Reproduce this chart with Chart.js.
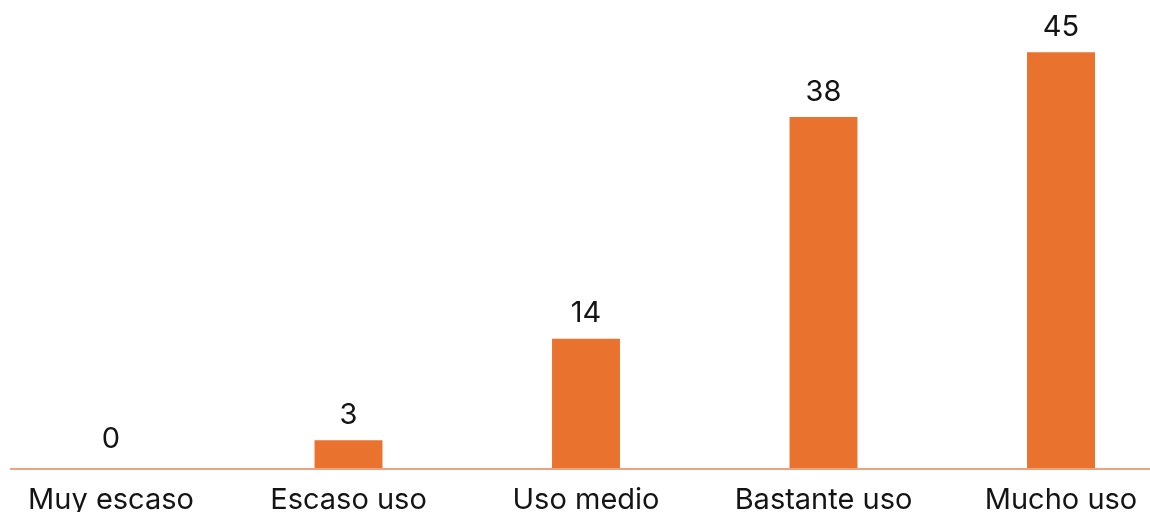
<!DOCTYPE html>
<html>
<head>
<meta charset="utf-8">
<script src="https://cdn.jsdelivr.net/npm/chart.js@4"></script>
<style>
  html, body { margin: 0; padding: 0; background: #fff; }
  #wrap { width: 1150px; height: 512px; }
</style>
</head>
<body>
<div id="wrap"><canvas id="chart_uso"></canvas></div>
<script>
const categories = ['Muy escaso', 'Escaso uso', 'Uso medio', 'Bastante uso', 'Mucho uso'];
const values = [0, 3, 14, 38, 45];

const barColor = '#E8722E';
const lineColor = '#EFA37C';
const textColor = '#141414';
const fontFamily = "Inter, 'Liberation Sans', Arial, sans-serif";

// value above each bar
const valueLabels = {
  id: 'valueLabels',
  afterDatasetsDraw(chart) {
    const ctx = chart.ctx;
    const meta = chart.getDatasetMeta(0);
    ctx.save();
    ctx.font = '29px ' + fontFamily;
    ctx.fillStyle = textColor;
    ctx.textAlign = 'center';
    ctx.textBaseline = 'middle';
    meta.data.forEach((bar, i) => {
      const gap = values[i] === 0 ? 29 : 25;
      ctx.fillText(String(values[i]), bar.x, bar.y - gap);
    });
    ctx.restore();
  }
};

// long baseline under the bars
const baseLine = {
  id: 'baseLine',
  afterDatasetsDraw(chart) {
    const ctx = chart.ctx;
    const y = chart.scales.y.getPixelForValue(0);
    ctx.save();
    ctx.strokeStyle = lineColor;
    ctx.lineWidth = 2;
    ctx.beginPath();
    ctx.moveTo(10, y + 1);
    ctx.lineTo(chart.width, y + 1);
    ctx.stroke();
    ctx.restore();
  }
};

new Chart(document.getElementById('chart_uso'), {
  type: 'bar',
  data: {
    labels: categories,
    datasets: [{
      data: values,
      backgroundColor: barColor,
      borderWidth: 0,
      barPercentage: 0.286,
      categoryPercentage: 1,
      clip: false
    }]
  },
  options: {
    responsive: true,
    maintainAspectRatio: false,
    animation: false,
    layout: { padding: { left: 111, right: 89, top: 6, bottom: 0 } },
    scales: {
      x: {
        offset: false,
        grid: { display: false, offset: false },
        border: { display: false },
        afterFit(scale) { scale.height = 44; },
        ticks: {
          color: textColor,
          padding: 10,
          maxRotation: 0,
          autoSkip: false,
          font: { family: fontFamily, size: 29, lineHeight: 1.0 }
        }
      },
      y: {
        display: false,
        min: 0,
        max: 50
      }
    },
    plugins: {
      legend: { display: false },
      tooltip: { enabled: false }
    }
  },
  plugins: [baseLine, valueLabels]
});
</script>
</body>
</html>
